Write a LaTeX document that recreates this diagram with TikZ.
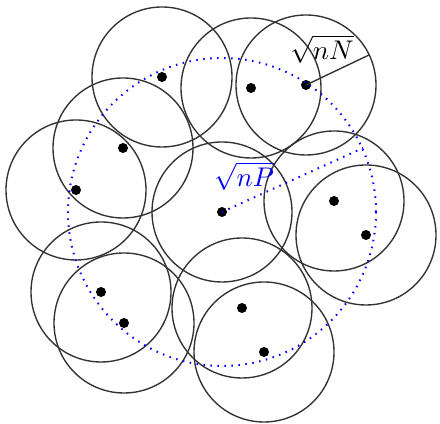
\documentclass[tikz,border=0pt]{standalone}
\begin{document}
\begin{tikzpicture}[x=0.4pt,y=-0.4pt,
  ring/.style={draw=black!80,line width=0.55pt},
  pt/.style={circle,fill=black,inner sep=0pt,minimum size=4pt},
  lbl/.style={inner sep=0pt,scale=1.08},
  bluedot/.style={blue,line width=0.8pt,dash pattern=on 0.6pt off 2.2pt}]
\useasboundingbox (0,0) rectangle (440,424);
\foreach \n/\x/\y in {a/162/77,b/251/88,c/306/85,d/123/148,e/76/190,o/222/212,f/334/201,g/366/235,h/101/292,i/124/323,j/242/308,k/264/352}{
  \draw[ring] (\x,\y) circle[radius=70];
  \node[pt] (\n) at (\x,\y) {};
}
\draw[bluedot] (o.center) circle[radius=154];
\coordinate (rN) at (369,55);
\coordinate (rP) at (363,148);
\draw[black!80,line width=0.55pt] (c.center) -- (rN);
\draw[bluedot] (o.center) -- (rP);
\node[lbl] (lN) at (322,49) {$\sqrt{nN}$};
\node[lbl,blue] (lP) at (244,176) {$\sqrt{nP}$};
\end{tikzpicture}
\end{document}
